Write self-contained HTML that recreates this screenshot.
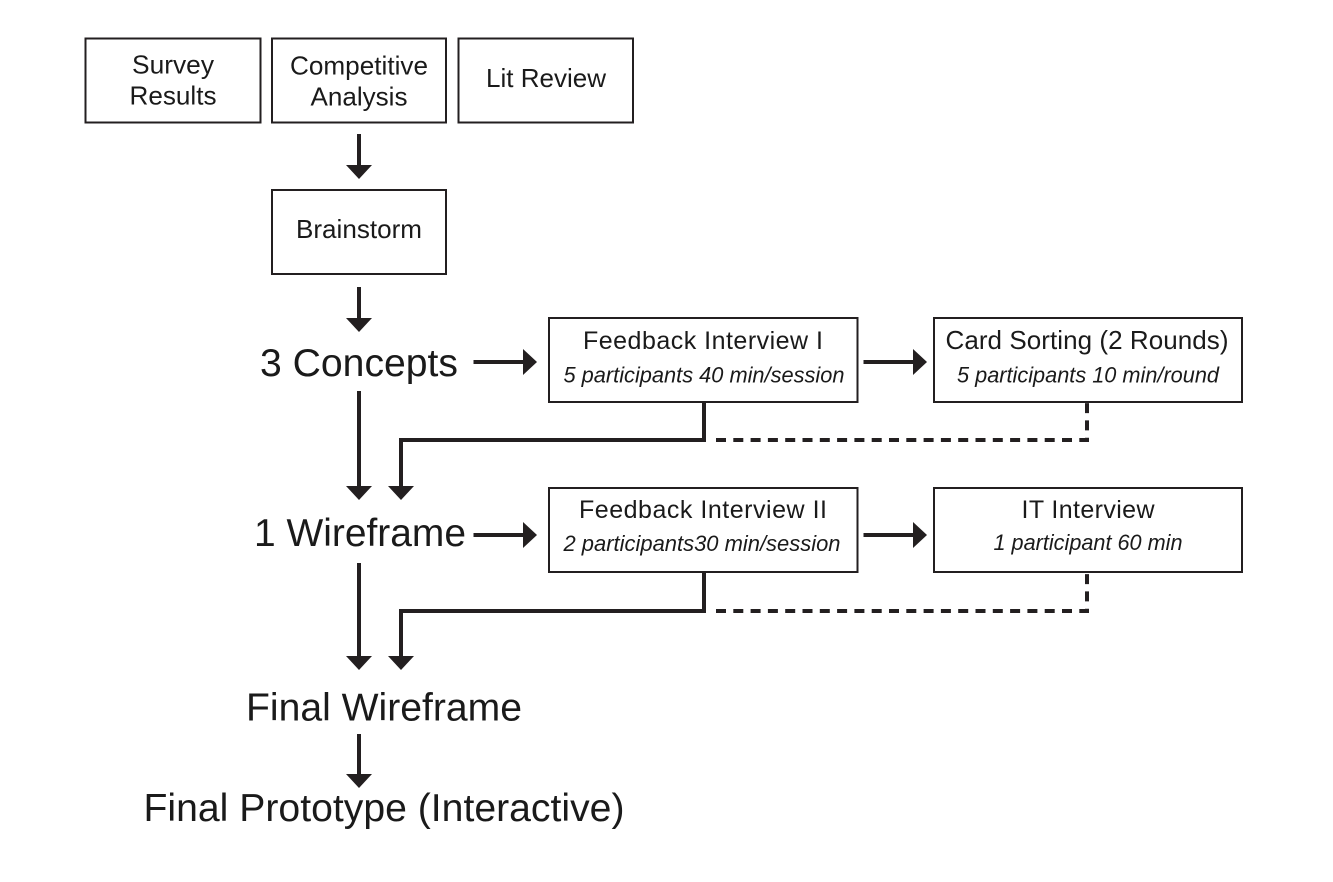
<!DOCTYPE html>
<html>
<head>
<meta charset="utf-8">
<style>
html,body{margin:0;padding:0;background:#fff}
svg{display:block}
text{font-family:"Liberation Sans",Arial,sans-serif;fill:#1a1a1a;stroke:none}
.b{fill:#fff;stroke:#231f20;stroke-width:2}
.l{fill:none;stroke:#231f20;stroke-width:4}
.d{fill:none;stroke:#231f20;stroke-width:4;stroke-dasharray:10 7.3}
.h{fill:#231f20;stroke:none}
.t{font-size:25px}
.s{font-size:21.800px;font-style:italic}
.m{font-size:26px}
.x{font-size:39px}
</style>
</head>
<body>
<svg width="1333" height="882" viewBox="0 0 1333 882" xmlns="http://www.w3.org/2000/svg">
<rect class="b" x="85.5" y="38.5" width="175" height="84"/>
<rect class="b" x="272" y="38.5" width="174" height="84"/>
<rect class="b" x="458.5" y="38.5" width="174.500" height="84"/>
<rect class="b" x="272" y="190" width="174" height="84"/>
<rect class="b" x="549" y="318" width="308.500" height="84"/>
<rect class="b" x="934" y="318" width="308" height="84"/>
<rect class="b" x="549" y="488" width="308.500" height="84"/>
<rect class="b" x="934" y="488" width="308" height="84"/>

<text class="m" x="173" y="73.500" text-anchor="middle" textLength="82" lengthAdjust="spacingAndGlyphs">Survey</text>
<text class="m" x="173" y="104.500" text-anchor="middle" textLength="87" lengthAdjust="spacingAndGlyphs">Results</text>
<text class="m" x="359" y="74.500" text-anchor="middle" textLength="138" lengthAdjust="spacingAndGlyphs">Competitive</text>
<text class="m" x="359" y="105.500" text-anchor="middle" textLength="97" lengthAdjust="spacingAndGlyphs">Analysis</text>
<text class="m" x="546" y="87" text-anchor="middle" textLength="120" lengthAdjust="spacingAndGlyphs">Lit Review</text>
<text class="m" x="359" y="238" text-anchor="middle" textLength="126" lengthAdjust="spacingAndGlyphs">Brainstorm</text>

<text class="t" x="703" y="349" text-anchor="middle" textLength="240" lengthAdjust="spacing">Feedback Interview I</text>
<text class="s" x="704" y="382.500" text-anchor="middle" textLength="281" lengthAdjust="spacingAndGlyphs">5 participants 40 min/session</text>
<text class="m" x="1087" y="349" text-anchor="middle" textLength="283" lengthAdjust="spacing">Card Sorting (2 Rounds)</text>
<text class="s" x="1088" y="382.500" text-anchor="middle" textLength="262" lengthAdjust="spacingAndGlyphs">5 participants 10 min/round</text>
<text class="t" x="703" y="518" text-anchor="middle" textLength="248" lengthAdjust="spacing">Feedback Interview II</text>
<text class="s" x="702" y="551" text-anchor="middle" textLength="277" lengthAdjust="spacingAndGlyphs">2 participants30 min/session</text>
<text class="t" x="1088" y="518" text-anchor="middle" textLength="133" lengthAdjust="spacing">IT Interview</text>
<text class="s" x="1088" y="550" text-anchor="middle" textLength="189" lengthAdjust="spacingAndGlyphs">1 participant 60 min</text>

<text class="x" x="359" y="376" text-anchor="middle" textLength="198" lengthAdjust="spacingAndGlyphs">3 Concepts</text>
<text class="x" x="360" y="546" text-anchor="middle" textLength="212" lengthAdjust="spacingAndGlyphs">1 Wireframe</text>
<text class="x" x="384" y="720.500" text-anchor="middle" textLength="276" lengthAdjust="spacingAndGlyphs">Final Wireframe</text>
<text class="x" x="384" y="821" text-anchor="middle" textLength="481" lengthAdjust="spacingAndGlyphs">Final Prototype (Interactive)</text>

<path class="l" d="M359 134V168"/><path class="h" d="M346 165H372L359 179Z"/>
<path class="l" d="M359 287V320"/><path class="h" d="M346 318H372L359 332Z"/>
<path class="l" d="M359 391V488"/><path class="h" d="M346 486H372L359 500Z"/>
<path class="l" d="M359 563V658"/><path class="h" d="M346 656H372L359 670Z"/>
<path class="l" d="M359 734V776"/><path class="h" d="M346 774H372L359 788Z"/>

<path class="l" d="M473.500 362H526"/><path class="h" d="M523 349V375L537 362Z"/>
<path class="l" d="M473.500 535H526"/><path class="h" d="M523 522V548L537 535Z"/>
<path class="l" d="M863.500 362H916"/><path class="h" d="M913 349V375L927 362Z"/>
<path class="l" d="M863.500 535H916"/><path class="h" d="M913 522V548L927 535Z"/>

<path class="l" d="M704 402V440H401V488"/><path class="h" d="M388 486H414L401 500Z"/>
<path class="l" d="M704 572V611H401V658"/><path class="h" d="M388 656H414L401 670Z"/>

<path class="d" d="M716 440H1087V403"/>
<path class="d" d="M716 611H1087V573"/>
</svg>
</body>
</html>
